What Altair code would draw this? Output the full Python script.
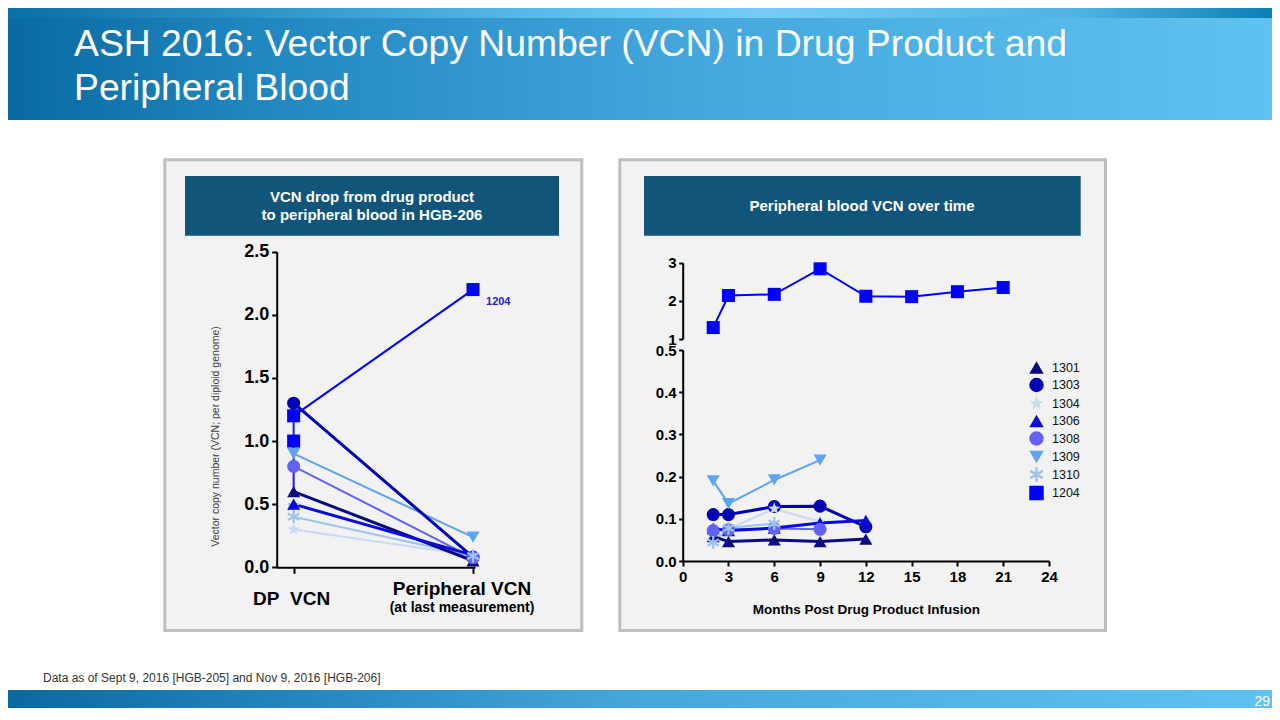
import math
import altair as alt
import pandas as pd

# ---------------- data ----------------
patients = ["1301", "1303", "1304", "1306", "1308", "1309", "1310", "1204"]

# Peripheral blood VCN over time (months post drug product infusion)
months_1301 = [2, 3, 6, 9, 12]
vcn_1301 = [0.058, 0.046, 0.050, 0.046, 0.052]
months_1303 = [2, 3, 6, 9, 12]
vcn_1303 = [0.110, 0.110, 0.129, 0.130, 0.081]
months_1304 = [2, 3, 6, 9]
vcn_1304 = [0.070, 0.076, 0.124, 0.093]
months_1306 = [2, 3, 6, 9, 12]
vcn_1306 = [0.077, 0.072, 0.078, 0.090, 0.096]
months_1308 = [2, 3, 6, 9]
vcn_1308 = [0.072, 0.074, 0.077, 0.075]
months_1309 = [2, 3, 6, 9]
vcn_1309 = [0.190, 0.136, 0.192, 0.239]
months_1310 = [2, 3, 6]
vcn_1310 = [0.044, 0.078, 0.089]
months_1204 = [2, 3, 6, 9, 12, 15, 18, 21]
vcn_1204 = [1.30, 2.14, 2.17, 2.84, 2.12, 2.11, 2.24, 2.35]

# Drug product VCN vs peripheral VCN at last measurement
dp_vcn = [0.6, 1.3, 0.3, 0.5, 0.8, 0.9, 0.4, 1.2]
peripheral_last_vcn = [0.052, 0.081, 0.093, 0.096, 0.075, 0.239, 0.089, 2.2]
extra_dp_patients = ["1204", "1310"]
extra_dp_vcn = [1.0, 0.48]
dp_range = [0.6, 1.3]
stage_values = [0, 1]
stage_labels = ["DP\u00a0\u00a0VCN", "Peripheral VCN"]
stage_sublabel = "(at last measurement)"

y_ticks_left = [0, 0.5, 1.0, 1.5, 2.0, 2.5]
y_ticks_right_low = [0, 0.1, 0.2, 0.3, 0.4, 0.5]
y_ticks_right_high = [1.0, 2.0, 3.0]
x_ticks_right = [0, 3, 6, 9, 12, 15, 18, 21, 24]

# ---------------- styles ----------------
palette = ["#0b0b80", "#0000b4", "#c8dbf2", "#0a0ade", "#6262f6", "#5ea4ee", "#9cc4ee", "#0000ff"]
thick_ids = ["1301", "1303", "1306"]


def star_path(n=5, r_in=0.42):
    pts = []
    for i in range(2 * n):
        r = 1.0 if i % 2 == 0 else r_in
        a = -math.pi / 2 + i * math.pi / n
        pts.append((r * math.cos(a), r * math.sin(a)))
    return "M" + " L".join(f"{x:.3f},{y:.3f}" for x, y in pts) + " Z"


def asterisk_path(w=0.17):
    parts = []
    for deg in (90, 30, 150):
        a = math.radians(deg)
        c, s = math.cos(a), math.sin(a)
        corners = [(-1, -w), (1, -w), (1, w), (-1, w)]
        rc = [(x * c - y * s, x * s + y * c) for x, y in corners]
        parts.append("M" + " L".join(f"{x:.3f},{y:.3f}" for x, y in rc) + " Z")
    return " ".join(parts)


shapes = ["triangle-up", "circle", star_path(), "triangle-up", "circle",
          "triangle-down", asterisk_path(), "square"]

FONT = "Liberation Sans"
W, H = 1264, 700

color_scale = alt.Scale(domain=patients, range=palette)
shape_scale = alt.Scale(domain=patients, range=shapes)

# pixel ranges (chart coordinates)
LX = alt.Scale(domain=[-0.0944, 1.0111], range=[268.7, 467], nice=False, zero=False)
LY = alt.Scale(domain=[0, 2.5], range=[559.3, 243.7], nice=False, zero=False)
RX = alt.Scale(domain=[0, 24], range=[674.7, 1041], nice=False, zero=False)
RYB = alt.Scale(domain=[0, 0.5], range=[553, 342], nice=False, zero=False)
RYT = alt.Scale(domain=[1, 3], range=[331, 254.7], nice=False, zero=False)

# ---------------- tables ----------------
left_df = pd.DataFrame({
    "patient": patients * 2,
    "stage": [stage_values[0]] * len(patients) + [stage_values[1]] * len(patients),
    "vcn": dp_vcn + peripheral_last_vcn,
})
extra_df = pd.DataFrame({"patient": extra_dp_patients, "stage": [stage_values[0]] * 2, "vcn": extra_dp_vcn})
range_df = pd.DataFrame({"stage": [stage_values[0]], "lo": [dp_range[0]], "hi": [dp_range[1]]})
label_1204 = pd.DataFrame({"stage": [stage_values[1]], "vcn": [peripheral_last_vcn[-1]], "t": ["1204"]})

series = {
    "1301": (months_1301, vcn_1301), "1303": (months_1303, vcn_1303),
    "1304": (months_1304, vcn_1304), "1306": (months_1306, vcn_1306),
    "1308": (months_1308, vcn_1308), "1309": (months_1309, vcn_1309),
    "1310": (months_1310, vcn_1310),
}
rows = []
for p, (ms, vs) in series.items():
    for m, v in zip(ms, vs):
        rows.append({"patient": p, "month": m, "vcn": v})
low_df = pd.DataFrame(rows)
top_df = pd.DataFrame({"patient": ["1204"] * len(months_1204), "month": months_1204, "vcn": vcn_1204})

one = pd.DataFrame({"k": [0]})


def deco_rect(x, x2, y, y2, **kw):
    return alt.Chart(one).mark_rect(**kw).encode(
        x=alt.value(x), x2=alt.value(x2), y=alt.value(y), y2=alt.value(y2))


def deco_text(x, y, text, **kw):
    return alt.Chart(one).mark_text(text=text, font=FONT, **kw).encode(
        x=alt.value(x), y=alt.value(y))


def grad(stops):
    return {"gradient": "linear", "x1": 0, "x2": 1, "y1": 0, "y2": 0,
            "stops": [{"offset": o, "color": c} for o, c in stops]}


# ---------------- decorations ----------------
header = deco_rect(0, W, 0, 112, fill=grad([(0, "#0a69a1"), (0.2, "#2187c0"),
                                            (0.55, "#44a8dd"), (1, "#5fc2f0")]))
header_top = deco_rect(0, W, 0, 10, fill=grad([(0, "#0b6fa8"), (0.45, "#5fc0ee"),
                                                (0.6, "#74cdf5"), (0.85, "#4fb1e2"),
                                                (1, "#0a80b7")]))
title1 = deco_text(66, 48, "ASH 2016: Vector Copy Number (VCN) in Drug Product and",
                   fontSize=37.3, color="white", align="left", baseline="alphabetic")
title2 = deco_text(66, 92, "Peripheral Blood", fontSize=37.3, color="white",
                   align="left", baseline="alphabetic")

panel_l = deco_rect(156.8, 573.8, 151.8, 622.5, fill="#f2f2f2", stroke="#bfbfbf", strokeWidth=3)
panel_r = deco_rect(611.8, 1097.5, 151.8, 622.5, fill="#f2f2f2", stroke="#bfbfbf", strokeWidth=3)
banner_l = deco_rect(177, 551, 168, 227.7, fill="#12557a")
banner_r = deco_rect(636, 1072.7, 168, 227.7, fill="#12557a")
btxt_l1 = deco_text(364, 194, "VCN drop from drug product", fontSize=15, fontWeight="bold",
                    color="white", align="center", baseline="alphabetic")
btxt_l2 = deco_text(364, 212, "to peripheral blood in HGB-206", fontSize=15, fontWeight="bold",
                    color="white", align="center", baseline="alphabetic")
btxt_r = deco_text(854, 203, "Peripheral blood VCN over time", fontSize=15, fontWeight="bold",
                   color="white", align="center", baseline="alphabetic")

footer = deco_text(35, 674, "Data as of Sept 9, 2016 [HGB-205] and Nov 9, 2016 [HGB-206]",
                   fontSize=12, color="#333333", align="left", baseline="alphabetic")
bottom_band = deco_rect(0, W, 682, H, fill=grad([(0, "#0a69a1"), (0.5, "#44a8dd"), (1, "#5fc2f0")]))
page_no = deco_text(1262, 698, "29", fontSize=14, color="white", align="right", baseline="alphabetic")

# ---------------- axes ----------------
common_axis = dict(domainColor="black", domainWidth=2, tickColor="black", tickWidth=2,
                   grid=False, zindex=1, labelOverlap=False, labelBound=False, labelFlush=False)

left_y_axis = alt.Axis(orient="left", offset=-268.7, values=y_ticks_left, format=".1f",
                       labelFont=FONT, labelFontWeight="bold", labelFontSize=18, labelColor="black",
                       tickSize=5, labelPadding=3,
                       title="Vector copy number (VCN; per diploid genome)", titleFont=FONT,
                       titleFontSize=10.5, titleFontWeight="normal", titleColor="#404040",
                       titleX=-61.7, titleY=428, titleAlign="center", titleBaseline="middle",
                       **common_axis)
left_x_axis = alt.Axis(orient="bottom", offset=559.3 - H, values=stage_values, labels=False,
                       tickSize=6, title=None, **common_axis)

right_lbl = dict(labelFont=FONT, labelFontWeight="bold", labelFontSize=15, labelColor="black")
rb_y_axis = alt.Axis(orient="left", offset=-674.7, values=y_ticks_right_low, format=".1f",
                     tickSize=4, labelPadding=2.5, title=None, **right_lbl, **common_axis)
rt_y_axis = alt.Axis(orient="left", offset=-674.7, values=y_ticks_right_high, format=".0f",
                     tickSize=4, labelPadding=2.5, title=None, **right_lbl, **common_axis)
r_x_axis = alt.Axis(orient="bottom", offset=553 - H, values=x_ticks_right, format="d",
                    tickSize=5, labelPadding=3,
                    title="Months Post Drug Product Infusion", titleFont=FONT, titleFontSize=13.5,
                    titleFontWeight="bold", titleColor="black", titleY=52,
                    titleBaseline="alphabetic", **right_lbl, **common_axis)

# ---------------- left plot ----------------
col = alt.Color("patient:N", scale=color_scale, legend=None)
shp = alt.Shape("patient:N", scale=shape_scale, legend=None)

left_thin = alt.Chart(left_df).transform_filter(
    ~alt.FieldOneOfPredicate(field="patient", oneOf=thick_ids)
).mark_line(strokeWidth=2).encode(
    x=alt.X("stage:Q", scale=LX, axis=left_x_axis),
    y=alt.Y("vcn:Q", scale=LY, axis=left_y_axis),
    color=col, detail="patient:N")
left_thick = alt.Chart(left_df).transform_filter(
    alt.FieldOneOfPredicate(field="patient", oneOf=thick_ids)
).mark_line(strokeWidth=3).encode(
    x=alt.X("stage:Q", scale=LX, axis=None),
    y=alt.Y("vcn:Q", scale=LY, axis=None),
    color=col, detail="patient:N")
left_range = alt.Chart(range_df).mark_rule(color="#1a1aff", strokeWidth=2).encode(
    x=alt.X("stage:Q", scale=LX, axis=None),
    y=alt.Y("lo:Q", scale=LY, axis=None), y2="hi:Q")
left_extra = alt.Chart(extra_df).mark_point(filled=True, size=170, opacity=1).encode(
    x=alt.X("stage:Q", scale=LX, axis=None),
    y=alt.Y("vcn:Q", scale=LY, axis=None), color=col, shape=shp)
left_pts = alt.Chart(left_df).mark_point(filled=True, size=170, opacity=1).encode(
    x=alt.X("stage:Q", scale=LX, axis=None),
    y=alt.Y("vcn:Q", scale=LY, axis=None), color=col, shape=shp)
left_lbl_1204 = alt.Chart(label_1204).mark_text(
    font=FONT, fontSize=11, fontWeight="bold", color="#2222cc", align="left",
    baseline="alphabetic", dx=13, dy=15).encode(
    x=alt.X("stage:Q", scale=LX, axis=None),
    y=alt.Y("vcn:Q", scale=LY, axis=None), text="t:N")

stage_df0 = pd.DataFrame({"stage": [stage_values[0]], "t": [stage_labels[0]]})
stage_df1 = pd.DataFrame({"stage": [stage_values[1]], "t": [stage_labels[1]]})
stage_df2 = pd.DataFrame({"stage": [stage_values[1]], "t": [stage_sublabel]})
lbl_dp = alt.Chart(stage_df0).mark_text(font=FONT, fontSize=19, fontWeight="bold", color="black",
                                        baseline="alphabetic", dx=-2).encode(
    x=alt.X("stage:Q", scale=LX, axis=None), y=alt.value(597), text="t:N")
lbl_pv = alt.Chart(stage_df1).mark_text(font=FONT, fontSize=19, fontWeight="bold", color="black",
                                        baseline="alphabetic", dx=-11).encode(
    x=alt.X("stage:Q", scale=LX, axis=None), y=alt.value(587), text="t:N")
lbl_sub = alt.Chart(stage_df2).mark_text(font=FONT, fontSize=14, fontWeight="bold", color="black",
                                         baseline="alphabetic", dx=-11).encode(
    x=alt.X("stage:Q", scale=LX, axis=None), y=alt.value(603.5), text="t:N")

# ---------------- right plot ----------------
rl_thin = alt.Chart(low_df).transform_filter(
    ~alt.FieldOneOfPredicate(field="patient", oneOf=thick_ids)
).mark_line(strokeWidth=2).encode(
    x=alt.X("month:Q", scale=RX, axis=r_x_axis),
    y=alt.Y("vcn:Q", scale=RYB, axis=rb_y_axis),
    color=col, detail="patient:N")
rl_thick = alt.Chart(low_df).transform_filter(
    alt.FieldOneOfPredicate(field="patient", oneOf=thick_ids)
).mark_line(strokeWidth=3).encode(
    x=alt.X("month:Q", scale=RX, axis=None),
    y=alt.Y("vcn:Q", scale=RYB, axis=None),
    color=col, detail="patient:N")
legend = alt.Legend(orient="none", legendX=1021, legendY=352, title=None, symbolSize=210,
                    labelFont="Liberation Sans Narrow, Liberation Sans", labelFontSize=12.5,
                    labelColor="#111111", labelOffset=8, rowPadding=3.5, padding=0,
                    symbolStrokeWidth=0, symbolOpacity=1, zindex=1)
rl_pts = alt.Chart(low_df).mark_point(filled=True, size=170, opacity=1).encode(
    x=alt.X("month:Q", scale=RX, axis=None),
    y=alt.Y("vcn:Q", scale=RYB, axis=None),
    color=alt.Color("patient:N", scale=color_scale, legend=legend),
    shape=alt.Shape("patient:N", scale=shape_scale, legend=legend))
rt_line = alt.Chart(top_df).mark_line(strokeWidth=2).encode(
    x=alt.X("month:Q", scale=RX, axis=None),
    y=alt.Y("vcn:Q", scale=RYT, axis=rt_y_axis),
    color=col)
rt_pts = alt.Chart(top_df).mark_point(filled=True, size=170, opacity=1).encode(
    x=alt.X("month:Q", scale=RX, axis=None),
    y=alt.Y("vcn:Q", scale=RYT, axis=None),
    color=col, shape=shp)

chart = alt.layer(
    header, header_top, title1, title2,
    panel_l, panel_r, banner_l, banner_r, btxt_l1, btxt_l2, btxt_r,
    left_thin, left_thick, left_range, left_extra, left_pts, left_lbl_1204,
    lbl_dp, lbl_pv, lbl_sub,
    rl_thin, rl_thick, rl_pts, rt_line, rt_pts,
    footer, bottom_band, page_no,
).resolve_scale(x="independent", y="independent").resolve_axis(
    x="independent", y="independent"
).resolve_legend(color="independent", shape="independent").properties(
    width=W, height=H, autosize=alt.AutoSizeParams(type="none"), padding=0, background="white"
).configure_view(stroke=None)

chart.save("out.html", embed_options={"renderer": "svg", "actions": False})
